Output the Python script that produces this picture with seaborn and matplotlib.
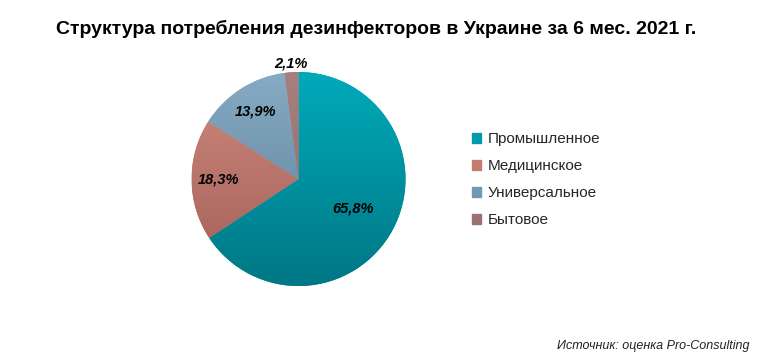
import matplotlib
matplotlib.use('Agg')
import matplotlib.pyplot as plt
import matplotlib.colors as mcolors
import seaborn as sns
import numpy as np

# ── Datos ─────────────────────────────────────────────
categorias = ["Промышленное", "Медицинское", "Универсальное", "Бытовое"]
valores = [65.8, 18.3, 13.9, 2.1]
etiquetas = ["65,8%", "18,3%", "13,9%", "2,1%"]
dist_etiquetas = [0.58, 0.75, 0.75, 1.08]

colores_arriba = ["#00AABA", "#CE8A7E", "#86ABC4", "#A88080"]
colores_abajo = ["#007784", "#A25E56", "#587D93", "#8E6464"]
colores_leyenda = ["#009AA8", "#C27C70", "#7399B2", "#9C7272"]

sns.set_style("white")
plt.rcParams['font.family'] = ['Liberation Sans', 'DejaVu Sans']

fig = plt.figure(figsize=(7.77, 3.63), dpi=100)
ax = fig.add_axes([0.2465, 0.212, 0.2754, 0.5895])

wedges, _ = ax.pie(valores, startangle=90, counterclock=False,
                   colors=colores_leyenda, radius=1.0,
                   wedgeprops=dict(linewidth=0))

# gradiente vertical dentro de cada sector
grad = np.linspace(0, 1, 256).reshape(-1, 1)
for w, c1, c2 in zip(wedges, colores_arriba, colores_abajo):
    cmap = mcolors.LinearSegmentedColormap.from_list("g", [c1, c2])
    im = ax.imshow(grad, cmap=cmap, extent=[-1, 1, -1, 1], origin='upper',
                   aspect='auto', zorder=w.get_zorder() + 0.1)
    im.set_clip_path(w)

# etiquetas de porcentaje
for w, txt, d in zip(wedges, etiquetas, dist_etiquetas):
    ang = np.deg2rad((w.theta1 + w.theta2) / 2)
    ax.text(d * np.cos(ang), d * np.sin(ang), txt, ha='center', va='center',
            fontsize=10.5, fontweight='bold', fontstyle='italic', color='black',
            zorder=5)

ax.set_xlim(-1, 1)
ax.set_ylim(-1, 1)
ax.set_aspect('auto')
ax.axis('off')

handles = [plt.Rectangle((0, 0), 1, 1, color=c) for c in colores_leyenda]
fig.legend(handles, categorias, loc='center left', bbox_to_anchor=(0.59, 0.505),
           frameon=False, fontsize=11, handlelength=0.6, handleheight=0.6,
           handletextpad=0.4, labelspacing=0.85)

fig.text(0.484, 0.92, "Структура потребления дезинфекторов в Украине за 6 мес. 2021 г.",
         ha='center', va='center', fontsize=14, fontweight='bold', color='black')
fig.text(0.965, 0.048, "Источник: оценка Pro-Consulting", ha='right', va='center',
         fontsize=9, fontstyle='italic', color='#222222')

plt.savefig("out.png", dpi=100)
plt.close()
